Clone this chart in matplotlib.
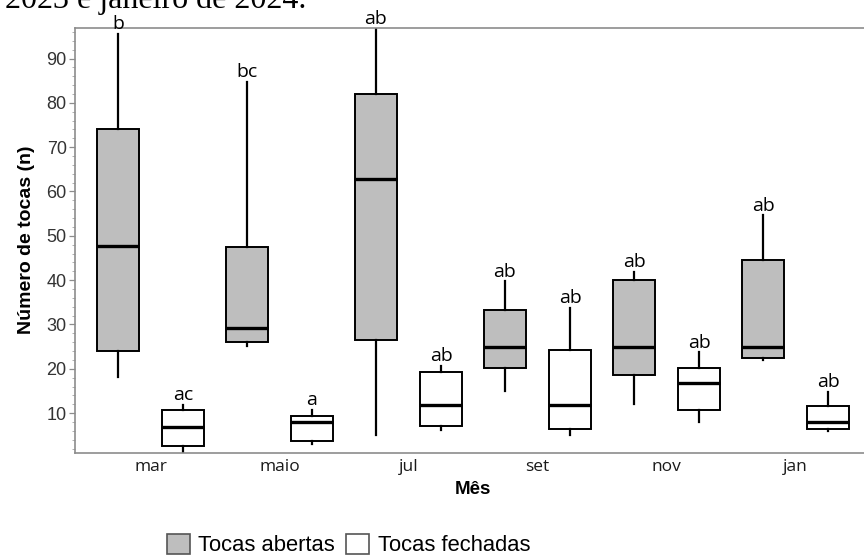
import matplotlib
matplotlib.use("Agg")
import matplotlib.pyplot as plt
from matplotlib.patches import Patch
import numpy as np

# resumo dos boxplots por mes (tocas abertas / fechadas)
meses = ['mar', 'maio', 'jul', 'set', 'nov', 'jan']

abertas_min = [18.2, 25.1, 5.0, 15.0, 12.0, 21.9]
abertas_q1 = [24.0, 26.0, 26.6, 20.1, 18.7, 22.5]
abertas_med = [47.8, 29.1, 62.9, 24.9, 24.9, 24.9]
abertas_q3 = [74.1, 47.4, 82.1, 33.2, 40.1, 44.6]
abertas_max = [95.6, 84.8, 96.6, 39.7, 41.8, 54.6]
abertas_letras = ['b', 'bc', 'ab', 'ab', 'ab', 'ab']

fechadas_min = [1.1, 3.0, 6.2, 5.0, 7.9, 6.0]
fechadas_q1 = [2.6, 3.8, 7.1, 6.5, 10.7, 6.5]
fechadas_med = [6.9, 7.9, 11.8, 11.8, 16.9, 7.9]
fechadas_q3 = [10.7, 9.3, 19.2, 24.2, 20.2, 11.6]
fechadas_max = [11.8, 10.7, 20.7, 33.7, 23.7, 14.7]
fechadas_letras = ['ac', 'a', 'ab', 'ab', 'ab', 'ab']

cinza = '#bebebe'
eixo = '#8c8c8c'


def stats(lo, q1, med, q3, hi):
    return [dict(whislo=a, q1=b, med=c, q3=d, whishi=e, fliers=[])
            for a, b, c, d, e in zip(lo, q1, med, q3, hi)]


fig = plt.figure(figsize=(8.64, 5.59), dpi=100)
ax = fig.add_axes([75 / 864, 1 - 453 / 559, 796 / 864, 425.5 / 559])

x = np.arange(len(meses))
desloc = 0.252
larg = 0.326

grupos = [
    (stats(abertas_min, abertas_q1, abertas_med, abertas_q3, abertas_max),
     x - desloc, cinza, abertas_max, abertas_letras),
    (stats(fechadas_min, fechadas_q1, fechadas_med, fechadas_q3, fechadas_max),
     x + desloc, 'white', fechadas_max, fechadas_letras),
]

for st, pos, cor, topo, letras in grupos:
    ax.bxp(st, positions=pos, widths=larg, patch_artist=True, showcaps=False,
           showfliers=False,
           boxprops=dict(facecolor=cor, edgecolor='black', linewidth=1.4),
           whiskerprops=dict(color='black', linewidth=1.6),
           medianprops=dict(color='black', linewidth=2.4),
           manage_ticks=False)
    for xi, yi, txt in zip(pos, topo, letras):
        ax.annotate(txt, (xi, yi), xytext=(0, 3.5), textcoords='offset points',
                    ha='center', va='baseline', fontsize=14,
                    family='Open Sans', annotation_clip=False)

ax.set_xlim(-0.585, 5.585)
ax.set_ylim(1, 97)
ax.set_xticks(x)
ax.set_xticklabels(meses, family='Open Sans', fontsize=12.5, color='#1a1a1a')
ax.tick_params(axis='x', length=0, pad=4)
ax.set_yticks(np.arange(10, 91, 10))
ax.set_yticks(np.arange(2, 97, 2), minor=True)
ax.tick_params(axis='y', which='major', length=4, width=0.9, color=eixo,
               labelsize=13, labelcolor='#333333', pad=2)
ax.tick_params(axis='y', which='minor', length=2.5, width=0.7, color='#b0b0b0')
for lab in ax.get_yticklabels():
    lab.set_family('Liberation Sans')

for s in ['left', 'top', 'bottom']:
    ax.spines[s].set_color(eixo)
    ax.spines[s].set_linewidth(1.2)
ax.spines['right'].set_visible(False)

ax.set_ylabel('Número de tocas (n)', family='Liberation Sans', fontweight='bold',
              fontsize=14, labelpad=8)
ax.set_xlabel('Mês', family='Liberation Sans', fontweight='bold',
              fontsize=13.5, labelpad=5)

# titulo cortado no topo
fig.text(5 / 864, 1 - 8 / 559, '2023 e janeiro de 2024.', family='Liberation Serif',
         fontsize=23, va='baseline', ha='left')

handles = [Patch(facecolor=cinza, edgecolor='#555555', linewidth=1.2),
           Patch(facecolor='white', edgecolor='#555555', linewidth=1.2)]
leg = fig.legend(handles, ['Tocas abertas', 'Tocas fechadas'], loc='center',
                 bbox_to_anchor=(348.5 / 864, 1 - 545 / 559), ncol=2, frameon=False,
                 prop=dict(family='Liberation Sans', size=15.8), handlelength=1.05,
                 handleheight=1.05, handletextpad=0.4, columnspacing=0.5,
                 borderpad=0)

fig.savefig('out.png', dpi=100)
